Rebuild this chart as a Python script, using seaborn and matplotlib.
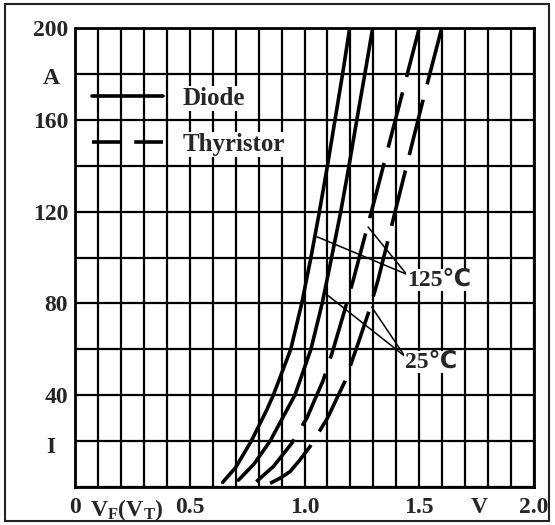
import numpy as np
import pandas as pd
import matplotlib
matplotlib.use('Agg')
import matplotlib.pyplot as plt
import seaborn as sns
from matplotlib.lines import Line2D
from matplotlib.patches import Rectangle

# Forward characteristics (V, A)
diode_125_v = [0.643, 0.70, 0.768, 0.835, 0.864, 0.94, 0.988, 1.028, 1.065, 1.10, 1.133, 1.166, 1.197]
diode_125_i = [2, 8.5, 20, 33.5, 40, 60, 80, 100, 120, 140, 160, 180, 200]

diode_25_v = [0.712, 0.78, 0.85, 0.958, 1.028, 1.077, 1.118, 1.158, 1.194, 1.228, 1.263, 1.297]
diode_25_i = [3, 10, 20, 40, 60, 80, 100, 120, 140, 160, 180, 200]

thy_125_v = [0.79, 0.865, 0.944, 1.01, 1.082, 1.125, 1.178, 1.212, 1.265, 1.318, 1.37, 1.43, 1.5]
thy_125_i = [2.3, 9, 19, 30, 46.6, 60, 78, 90, 110, 130, 150, 173, 200]

thy_25_v = [0.85, 0.893, 0.937, 0.98, 1.024, 1.10, 1.176, 1.235, 1.278, 1.32, 1.37, 1.42, 1.47, 1.52, 1.598]
thy_25_i = [1.6, 3.8, 6.7, 11.8, 17.6, 30, 46, 63, 75.7, 90, 110, 130, 150, 170, 200]

# Axis labels
x_tick_pos = [0, 0.225, 0.5, 1.0, 1.5, 1.76, 2.0]
x_tick_labels = ['0', r'V$_\mathrm{F}$(V$_\mathrm{T}$)', '0.5', '1.0', '1.5', 'V', '2.0']
y_tick_pos = [40, 80, 120, 160, 200]
y_tick_labels = ['40', '80', '120', '160', '200']

# Temperature callouts: label anchor and the curve points the leaders point to
label_125 = (1.445, 90.2)
leader_125 = [(1.055, 109), (1.277, 113.3)]
label_25 = (1.437, 54.5)
leader_25 = [(1.095, 84), (1.293, 78.4)]

sns.set_style("white")
plt.rcParams['font.family'] = ['Liberation Serif', 'DejaVu Sans']
plt.rcParams['font.weight'] = 'bold'
plt.rcParams['mathtext.fontset'] = 'custom'
plt.rcParams['mathtext.rm'] = 'Liberation Serif:bold'
plt.rcParams['mathtext.bf'] = 'Liberation Serif:bold'
plt.rcParams['mathtext.it'] = 'Liberation Serif:bold'

fig = plt.figure(figsize=(5.55, 5.25), dpi=100)
ax = fig.add_axes([75 / 555, 38 / 525, 459 / 555, 459 / 525])

lw = 2.6
dashed = (0, (15.8, 4.4))
curves = [
    (diode_125_v, diode_125_i, '-'),
    (diode_25_v, diode_25_i, '-'),
    (thy_125_v, thy_125_i, dashed),
    (thy_25_v, thy_25_i, dashed),
]
for v, i, ls in curves:
    sns.lineplot(x=v, y=i, sort=False, estimator=None, color='black',
                 lw=lw, linestyle=ls, ax=ax, zorder=3)

ax.set_xlim(0, 2.0)
ax.set_ylim(0, 200)

# grid on minor ticks, labels on major ticks
ax.xaxis.remove_overlapping_locs = False
ax.yaxis.remove_overlapping_locs = False
ax.set_xticks(np.arange(0, 2.01, 0.1), minor=True)
ax.set_yticks(np.arange(0, 201, 20), minor=True)
ax.set_xticks(x_tick_pos)
ax.set_xticklabels(x_tick_labels)
ax.set_yticks(y_tick_pos)
ax.set_yticklabels(y_tick_labels)
ax.grid(which='minor', color='black', lw=1.6)
ax.grid(which='major', visible=False)
ax.tick_params(which='both', length=0)
ax.tick_params(axis='x', pad=7, labelsize=17)
ax.tick_params(axis='y', pad=5, labelsize=17)
for s in ax.spines.values():
    s.set_color('black')
    s.set_linewidth(2)

# unit letters on the y axis
ax.text(-0.052, 178, 'A', transform=ax.get_yaxis_transform(), ha='center', va='center', fontsize=17)
ax.text(-0.052, 17, 'I', transform=ax.get_yaxis_transform(), ha='center', va='center', fontsize=17)

# temperature labels with leader lines
for (lx, ly), pts, txt in [(label_125, leader_125, '125℃'), (label_25, leader_25, '25℃')]:
    for px, py in pts:
        ax.annotate('', xy=(px, py), xytext=(lx, ly + 2.5),
                    arrowprops=dict(arrowstyle='-', lw=1.1, color='black', shrinkA=0, shrinkB=0))
    ax.text(lx, ly, txt, ha='left', va='center', fontsize=17, zorder=5,
            bbox=dict(facecolor='white', edgecolor='none', pad=0.5))

handles = [Line2D([], [], color='black', lw=lw),
           Line2D([], [], color='black', lw=lw, linestyle=(0, (8.0, 3.7)))]
leg = ax.legend(handles, ['Diode', 'Thyristor'], loc='upper left',
                bbox_to_anchor=(0.037, 0.872), frameon=False, fontsize=18,
                handlelength=2.84, handletextpad=0.8, labelspacing=0.93,
                borderpad=0, borderaxespad=0)
for t in leg.get_texts():
    t.set_bbox(dict(facecolor='white', edgecolor='none', pad=0.5))

# outer frame around the whole picture
fig.add_artist(Rectangle((5 / 555, 4 / 525), 544 / 555, 517 / 525, transform=fig.transFigure,
                         fill=False, lw=1.5, ec='#222222'))

fig.savefig('out.png', dpi=100)
